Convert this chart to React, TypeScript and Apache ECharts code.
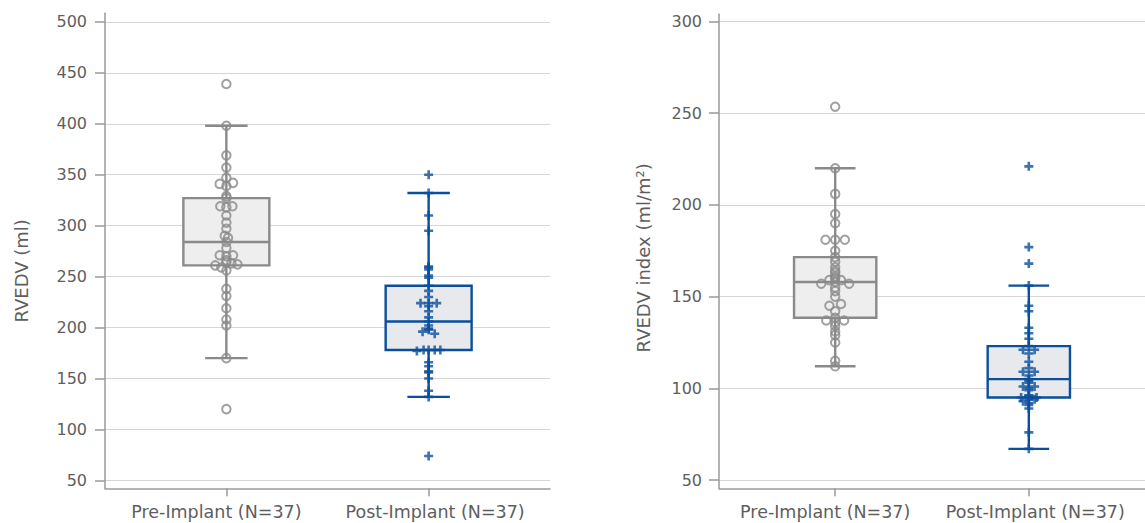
import React, { useEffect, useRef } from "react";
import * as echarts from "echarts";

// ---------- data ----------
const categories = ["Pre-Implant (N=37)", "Post-Implant (N=37)"];

// Left panel: RVEDV (ml)
const rvedvPre = [120, 170, 202, 208, 219, 231, 238, 256, 259, 261, 262, 263, 264, 266, 270, 271, 271, 278, 284, 288, 290, 297, 303, 310, 318, 319, 319, 327, 329, 339, 341, 342, 347, 357, 369, 398, 439];
const rvedvPreJitter = [0, 0, 0, 0, 0, 0, 0, 0, -0.025, -0.055, 0.055, 0.025, 0, 0, 0, -0.033, 0.033, 0, 0, 0.008, -0.008, 0, 0, 0, 0, -0.03, 0.03, 0, 0, 0, -0.033, 0.033, 0, 0, 0, 0, 0];
const rvedvPost = [74, 132, 138, 150, 156, 157, 162, 166, 177, 178, 178, 178, 178, 194, 196, 198, 199, 202, 206, 210, 216, 221, 224, 224, 224, 230, 236, 241, 249, 251, 257, 259, 260, 295, 310, 332, 350];
const rvedvPostJitter = [0, 0, 0, 0, 0, 0, 0, 0, -0.058, -0.025, 0, 0.03, 0.058, 0.03, -0.03, 0, 0, 0, 0, 0, 0, 0, -0.04, 0, 0.04, 0, 0, 0, 0, 0, 0, 0, 0, 0, 0, 0, 0];

// Right panel: RVEDV index (ml/m²)
const indexPre = [112, 115, 125, 129, 131, 134, 136, 137, 137, 138.5, 142, 145, 146, 150, 153, 155, 157, 157, 158, 159, 159, 160, 161, 163, 164, 166, 169, 171.5, 175, 181, 181, 181, 190, 195, 206, 220, 253.5];
const indexPreJitter = [0, 0, 0, 0, 0, 0, 0, -0.046, 0.046, 0, 0, -0.03, 0.03, 0, 0, 0, -0.072, 0.072, 0, -0.03, 0.03, 0, 0, 0, 0, 0, 0, 0, 0, -0.05, 0, 0.05, 0, 0, 0, 0, 0];
const indexPost = [67, 76, 89, 91, 92, 93, 94, 94, 95, 95, 96, 96, 99, 100, 101, 101, 103, 104, 105, 107, 109, 109, 111, 114.5, 119, 121, 121, 123, 127, 130, 133, 142, 145, 156, 168, 177, 221];
const indexPostJitter = [0, 0, 0, 0, 0, -0.03, 0.03, 0, -0.04, 0.04, 0, 0, 0, 0, -0.03, 0.03, 0, 0, 0, 0, -0.03, 0.03, 0, 0, 0, -0.03, 0.03, 0, 0, 0, 0, 0, 0, 0, 0, 0, 0];

const rvedvTicks = [50, 100, 150, 200, 250, 300, 350, 400, 450, 500];
const indexTicks = [50, 100, 150, 200, 250, 300];
const categoryTicks = [0, 1];

// ---------- styles ----------
const GRAY = "#8a8a8a";
const BLUE = "#0a4f9c";
const FILLS = ["#eeeeee", "#e8e9ec"];
const STROKES = [GRAY, BLUE];
const FONT = "DejaVu Sans";
const TEXT = "#5e5e5e";
const AXIS = "#9a9a9a";
const PLUS = "path://M3.2,0h2.6v3.2h3.2v2.6h-3.2v3.2h-2.6v-3.2h-3.2v-2.6h3.2z";
const BOX_HALF = 0.2125;
const CAP_HALF = 0.105;

function quantile(sorted: number[], p: number) {
  const pos = (sorted.length - 1) * p;
  const lo = Math.floor(pos);
  const hi = Math.ceil(pos);
  return sorted[lo] + (sorted[hi] - sorted[lo]) * (pos - lo);
}

function boxStats(values: number[]) {
  const s = [...values].sort((a, b) => a - b);
  const q1 = quantile(s, 0.25);
  const med = quantile(s, 0.5);
  const q3 = quantile(s, 0.75);
  const iqr = q3 - q1;
  const low = Math.min(...s.filter((v) => v >= q1 - 1.5 * iqr));
  const high = Math.max(...s.filter((v) => v <= q3 + 1.5 * iqr));
  return [low, q1, med, q3, high];
}

function renderBox(params: any, api: any) {
  const x = api.value(0);
  const lo = api.value(1);
  const q1 = api.value(2);
  const med = api.value(3);
  const q3 = api.value(4);
  const hi = api.value(5);
  const stroke = STROKES[params.dataIndex];
  const fill = FILLS[params.dataIndex];
  const c = api.coord([x, med]);
  const tl = api.coord([x - BOX_HALF, q3]);
  const br = api.coord([x + BOX_HALF, q1]);
  const pHi = api.coord([x, hi]);
  const pLo = api.coord([x, lo]);
  const capL = api.coord([x - CAP_HALF, hi])[0];
  const capR = api.coord([x + CAP_HALF, hi])[0];
  const ls = { stroke, lineWidth: 2.4 };
  return {
    type: "group",
    children: [
      { type: "line", shape: { x1: c[0], y1: tl[1], x2: c[0], y2: pHi[1] }, style: ls },
      { type: "line", shape: { x1: c[0], y1: br[1], x2: c[0], y2: pLo[1] }, style: ls },
      { type: "line", shape: { x1: capL, y1: pHi[1], x2: capR, y2: pHi[1] }, style: ls },
      { type: "line", shape: { x1: capL, y1: pLo[1], x2: capR, y2: pLo[1] }, style: ls },
      {
        type: "rect",
        shape: { x: tl[0], y: tl[1], width: br[0] - tl[0], height: br[1] - tl[1] },
        style: { fill, stroke, lineWidth: 2.4 },
      },
      { type: "line", shape: { x1: tl[0], y1: c[1], x2: br[0], y2: c[1] }, style: ls },
    ],
  };
}

function points(values: number[], jitter: number[], cat: number) {
  return values.map((v, i) => [cat + jitter[i], v]);
}

function xAxisFor(gridIndex: number) {
  return {
    type: "value",
    gridIndex,
    min: -0.6,
    max: 1.6,
    axisLine: { show: true, onZero: false, lineStyle: { color: AXIS, width: 1.5 } },
    axisTick: { show: true, customValues: categoryTicks, length: 8, lineStyle: { color: AXIS, width: 1.5 } },
    axisLabel: {
      customValues: categoryTicks,
      margin: 15,
      formatter: (v: number) => (v === 0 ? "{a|" + categories[0] + "}" : "{b|" + categories[1] + "}"),
      rich: {
        a: { fontFamily: FONT, fontSize: 17.5, color: TEXT, padding: [0, 20, 0, 0] },
        b: { fontFamily: FONT, fontSize: 17.5, color: TEXT, padding: [0, 0, 0, 13] },
      },
    },
    splitLine: { show: false },
  };
}

function yAxisFor(gridIndex: number, min: number, max: number, ticks: number[], name: string, gap: number, pad: number[], labelMargin: number) {
  return {
    type: "value",
    gridIndex,
    min,
    max,
    name,
    nameLocation: "middle",
    nameGap: gap,
    nameTextStyle: { fontFamily: FONT, fontSize: 18, color: TEXT, padding: pad },
    axisLine: { show: true, onZero: false, lineStyle: { color: AXIS, width: 1.5 } },
    axisTick: { show: true, customValues: ticks, length: 10, lineStyle: { color: AXIS, width: 1.5 } },
    axisLabel: { customValues: ticks, margin: labelMargin, fontFamily: FONT, fontSize: 16, color: TEXT },
    splitLine: { show: true, lineStyle: { color: "#d6d6d6", width: 1.2 } },
  };
}

export default function App() {
  const ref = useRef<HTMLDivElement>(null);
  useEffect(() => {
    if (!ref.current) return;
    const chart = echarts.init(ref.current, null, { renderer: "svg" });
    const boxesLeft = [
      [0, ...boxStats(rvedvPre)],
      [1, ...boxStats(rvedvPost)],
    ];
    const boxesRight = [
      [0, ...boxStats(indexPre)],
      [1, ...boxStats(indexPost)],
    ];
    const circleStyle = { color: "rgba(0,0,0,0)", borderColor: GRAY, borderWidth: 2 };
    const plusStyle = { color: BLUE };
    chart.setOption({
      animation: false,
      backgroundColor: "#ffffff",
      grid: [
        { left: 105, top: 13.3, width: 445, height: 475 },
        { left: 719, top: 14.3, width: 433.4, height: 474 },
      ],
      xAxis: [xAxisFor(0), xAxisFor(1)],
      yAxis: [
        yAxisFor(0, 42.3, 508.4, rvedvTicks, "RVEDV (ml)", 75, [0, 40, 0, 0], 18),
        yAxisFor(1, 45.5, 303.9, indexTicks, "RVEDV index (ml/m²)", 67, [0, 13, 0, 0], 17),
      ],
      series: [
        { type: "custom", xAxisIndex: 0, yAxisIndex: 0, renderItem: renderBox, data: boxesLeft, encode: { x: 0, y: [1, 2, 3, 4, 5] }, z: 1 },
        { type: "custom", xAxisIndex: 1, yAxisIndex: 1, renderItem: renderBox, data: boxesRight, encode: { x: 0, y: [1, 2, 3, 4, 5] }, z: 1 },
        { type: "scatter", xAxisIndex: 0, yAxisIndex: 0, symbol: "circle", symbolSize: 8.5, itemStyle: circleStyle, data: points(rvedvPre, rvedvPreJitter, 0), z: 3 },
        { type: "scatter", xAxisIndex: 0, yAxisIndex: 0, symbol: PLUS, symbolSize: 9, itemStyle: plusStyle, data: points(rvedvPost, rvedvPostJitter, 1), z: 3 },
        { type: "scatter", xAxisIndex: 1, yAxisIndex: 1, symbol: "circle", symbolSize: 8.5, itemStyle: circleStyle, data: points(indexPre, indexPreJitter, 0), z: 3 },
        { type: "scatter", xAxisIndex: 1, yAxisIndex: 1, symbol: PLUS, symbolSize: 9, itemStyle: plusStyle, data: points(indexPost, indexPostJitter, 1), z: 3 },
      ],
    });
    return () => chart.dispose();
  }, []);
  return <div ref={ref} style={{ position: "fixed", left: 0, top: 0, width: 1145, height: 523 }} />;
}
